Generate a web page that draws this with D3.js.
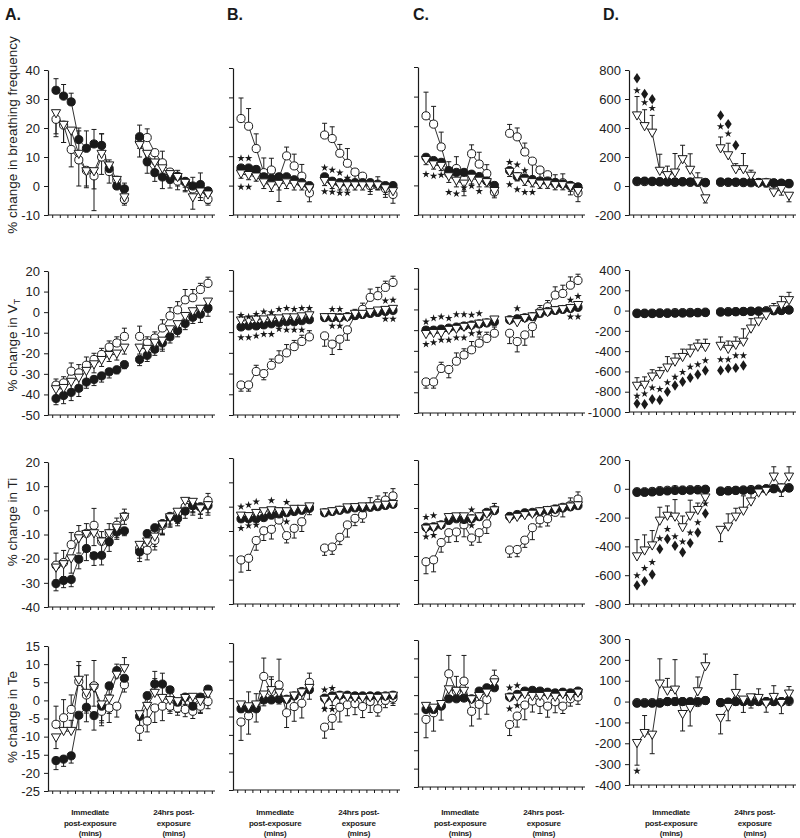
<!DOCTYPE html>
<html>
<head>
<meta charset="utf-8">
<style>
  body { margin: 0; background: #fff; }
  svg text { font-family: "Liberation Sans", Arial, sans-serif; }
</style>
</head>
<body>
<div id="chart"></div>
<script src="https://d3js.org/d3.v7.min.js"></script>
<script>
// ---- labels ----
const panelLetters = ["A.", "B.", "C.", "D."];
const rowTitles = ["% change in breathing frequency", "% change in V", "% change in Ti", "% change in Te"];
const segLabelsLeft = ["Immediate", "post-exposure", "(mins)"];
const segLabelsRight = ["24hrs post-", "exposure", "(mins)"];

// y domains [min, max, step] for columns A-C and for column D
const abcDomains = [[-10, 40, 10], [-50, 20, 10], [-40, 20, 10], [-25, 15, 5]];
const dDomains = [[-200, 800, 200], [-1000, 400, 200], [-800, 200, 200], [-400, 300, 100]];

// slots: 10 immediate time points, a gap, 10 points at 24 hrs
const slots = d3.range(10).concat(d3.range(11, 21));

// ---- row 1: breathing frequency ----
const a1Filled = [33, 31, 29, 16, 13, 14.5, 14, 6, 0, -1, 17, 8.4, 4.6, 3.1, 2.3, 3.4, 1.6, 0, 0.5, -1.7];
const a1FilledErr = [4, 4, 3, 4, 6, 5, 4, 3, 3, 2, 4, -4, -3, -4, -3, 2, -2, 3, 4, -2];
const a1Open = [23, 21, 12.6, 9, 5.4, 3.5, 10, 5, 2, -4.6, 16, 16.7, 11.5, 8, 4.8, 1.7, 1.4, -1, -1, -4.6];
const a1OpenErr = [-6, -6, -6, -9, -6, -12, -6, -4, -3, -2, -3, 3, -4, 4, -3, -3, -3, -3, -3, -2];
const a1Tri = [25, 21, 19, 11, 5, 5, 11, 7, 2, -4, 14, 11, 8, 6, 4, 3, 1, -4, -2, -3];
const a1TriErr = [-7, -6, -7, 8, -5, -6, 7, -3, -2, -2, -4, -4, -3, -3, -3, -3, -3, -4, -3, -3];

const b1Filled = [6, 6, 5.5, 3, 2.5, 3, 3, 2, 1, 0, 3, 1.5, 1, 1, 1, 1, 1, 0.5, 0, 0];
const b1Open = [22.8, 20.2, 12.6, 4.4, 5.3, 2.6, 10.1, 6.7, 3.2, -2.5, 17.2, 16, 11, 7.6, 4.6, 3.2, 0, 0, -1, -3];
const b1OpenErr = [7, 6, 5, 5, 4, -8, 3, 4, 4, -3, 4, 4, 3, 5, -3, -3, -3, 3, -3, -3];
const b1Tri = [4, 3.5, 3, 1, 0, 0.5, 1, 0.5, 0, -1, 1.5, 0.5, 0, 0, 0, 0, 0, 0, -1, -2];
const b1TriErr = [-1.5, -1.5, -1.5, -2, -2, -2, -2, -2, -1.5, -2, -1.5, -1.5, -1.5, -1.5, -1.5, -1.5, -2, -1.5, -2, -2];
const b1Stars = [[0, 9.3], [1, 9.3], [0, -0.5], [1, -0.5], [11, 6.1], [12, 5.3], [13, 4.4], [14, 2.6], [11, -2], [12, -2.2], [13, -2.5], [14, -2.5]];

const c1Filled = [9.5, 8.4, 7.8, 5, 4.4, 4.4, 3.8, 3, 1.5, 0, 5, 3, 2.5, 2, 1.5, 1.5, 1, 0.5, 0, -0.5];
const c1Open = [23.5, 20.7, 13, 4, 5.7, 2, 10.7, 7.2, 4, -2.2, 17.6, 16.4, 11.3, 8.2, 5.2, 3.6, 0.6, 0.9, -0.2, -2.5];
const c1OpenErr = [8, 6, 5, 4, 4, -4, 3, 4, 3, -2, 3, 3, 3, -7, -3, -3, 3, 3, -3, -3];
const c1Tri = [8.5, 7, 6.5, 3, 1.5, 0.5, 2.5, 1.5, 1, -2, 4.5, 3, 1.5, 1, 0.5, 0.5, 0, 0, -0.5, -2];
const c1TriErr = [-1.5, -1.5, -1.5, -2, -2, -4, -2, -2, -1.5, -1.5, -1.5, -1.5, -1.5, -1.5, -1.5, -1.5, -1.5, -1.5, -1.5, -1.5];
const c1Stars = [[0, 3.8], [1, 3.2], [2, 3.5], [3, -2.3], [4, -2.8], [5, -0.8], [6, -0.2], [7, -2],
                 [11, 7.8], [12, 7], [13, 5], [11, 0.3], [12, -1.4], [13, -2.3], [14, -2.3]];

const d1Filled = [34, 34, 33, 30, 30, 28, 30, 28, 28, 25, 28, 27, 27, 26, 26, 25, 25, 22, 20, 18];
const d1Open = [30, 30, 30, 28, 28, 25, 28, 25, 25, 22, 25, 25, 25, 23, 22, 22, 22, 20, 18, 15];
const d1Tri = [485, 411, 366, 103, 73, 91, 183, 110, 30, -87, 258, 210, 114, 114, 69, 18, 23, -46, -23, -69];
const d1TriErr = [132, 115, 121, 116, 64, 133, 98, 112, 61, -30, 80, 85, 40, 110, 40, 30, -30, 40, -40, -40];
const d1Stars = [[0, 658], [1, 576], [2, 537], [11, 411], [12, 361]];
const d1Diamonds = [[0, 743], [1, 635], [2, 599], [11, 487], [12, 427], [13, 281]];

// ---- row 2: tidal volume ----
const a2Filled = [-42, -40.5, -39, -37, -34, -32.7, -31, -29, -28, -25.5, -23, -21, -18, -15, -12, -9, -5.5, -2.5, -1, 2];
const a2FilledErr = [-3, -4, -4, -4, -3, -3, -3, -3, -2, -2, -3, -3, -3, -3, -3, -3, -3, -3, -4, -4];
const a2Open = [-35.5, -34.4, -28.7, -29.5, -25.8, -23, -20.6, -17, -15, -11.8, -11.8, -15, -12.6, -7.7, -1.8, 1.1, 6, 7, 11, 14];
const a2OpenErr = [3, 3, 4, 4, 4, 3, 3, 3, 3, 4, 5, 3, 3, 4, 4, 4, 5, 4, 3, 3];
const a2Tri = [-37.6, -37, -34, -32, -28.7, -25.5, -23.4, -21, -20.3, -17.4, -17.4, -18, -15, -14, -8.5, -6, -2, 0.3, 1.5, 5];
const a2TriErr = [-3, -3, -4, -4, -4, -4, -3, -3, -3, -3, -3, -3, -3, -5, -4, -4, -4, -4, -4, -5];

const b2Filled = [-7.5, -7, -7, -6.5, -6, -5.5, -5, -5, -4.5, -4, -3, -3, -3, -2.5, -2, -1.5, -1, -0.5, 0, 0.5];
const b2Open = [-35.5, -35.5, -29, -30, -26, -23, -20, -17, -14.5, -12.3, -11.8, -15.8, -13.4, -8.9, -2, 1, 6.8, 7.6, 11.6, 14];
const b2OpenErr = [-3, -3, 3, -3, 3, 4, 4, 3, 3, 3, -5, -5, -5, -5, 3, 3, 4, 4, 3, 3];
const b2Tri = [-4.5, -4.5, -4, -4, -3.5, -3.5, -3, -3, -2.5, -2, -2.9, -2.9, -3.2, -2.9, -1.3, -1.3, -0.5, 0.3, 0.6, 1.1];
const b2Stars = [[0, -1.8], [1, -2.6], [2, -1.3], [3, -0.2], [4, -0.5], [5, 1.1], [6, 1.5], [7, 1.1], [8, 1.5], [9, 1.5],
                 [0, -12.6], [1, -12.6], [2, -11.8], [3, -11], [4, -11], [5, -8.5], [6, -8.9], [7, -8.9], [8, -8.9],
                 [12, 1.1], [13, 1.1], [12, -7], [13, -7], [19, 5.2], [20, 5.5], [19, -3.7], [20, -3.7]];

const c2Filled = [-10, -10, -9.5, -9, -8.5, -8, -7.5, -7, -6.5, -6, -5, -4.5, -4, -3.5, -2, -1, -0.5, 0, 0.5, 1];
const c2Open = [-35, -35, -28.5, -29, -25, -22, -19.5, -16.3, -14, -11.5, -11.5, -15.5, -12.3, -8.3, -1.1, 1.3, 6.9, 7.7, 11.7, 14];
const c2OpenErr = [-3, -3, 3, -4, 4, 3, 4, 3, 3, 3, -5, -5, -5, -5, 3, 3, 4, 4, 4, 3];
const c2Tri = [-12, -11.5, -11.5, -10, -9.5, -8.5, -8, -7, -6.5, -5, -5.4, -6.3, -4.3, -3.5, -2, -1.5, -0.5, 0, 0.5, 2];
const c2Stars = [[0, -6], [1, -4.3], [2, -3.5], [3, -4.3], [4, -2.4], [5, -2.4], [6, -2.7], [7, -2],
                 [0, -16.8], [1, -16], [2, -14.8], [3, -14.8], [4, -13.7], [5, -13.7], [6, -11.6], [7, -11.3],
                 [12, 0.5], [19, 4.5], [20, 6.4], [19, -3.5], [20, -3.5]];

const d2Filled = [-30, -30, -30, -28, -28, -26, -25, -24, -22, -20, -15, -14, -12, -10, -8, -6, -4, -2, 0, 5];
const d2Open = [-25, -25, -25, -22, -22, -20, -20, -18, -18, -15, -12, -10, -10, -8, -6, -5, -2, 0, 2, 8];
const d2Tri = [-744, -734, -653, -630, -564, -506, -460, -418, -359, -362, -350, -380, -340, -310, -180, -110, -50, 10, 50, 100];
const d2TriErr = [82, 80, 70, 70, 110, 80, 80, 80, 70, 80, 90, 80, 80, 130, 100, 90, 80, 60, 90, 80];
const d2Stars = [[0, -842], [1, -819], [2, -760], [3, -775], [4, -710], [5, -656], [6, -607], [7, -555], [8, -532], [9, -493],
                 [11, -483], [12, -483], [13, -444], [14, -444]];
const d2Diamonds = [[0, -917], [1, -924], [2, -875], [3, -881], [4, -800], [5, -738], [6, -702], [7, -663], [8, -630], [9, -591],
                    [11, -590], [12, -570], [13, -565], [14, -541]];

// ---- row 3: inspiratory time ----
const a3Filled = [-30.3, -29, -28.6, -20.2, -15.8, -18.8, -18.6, -13, -9, -8.5, -17.2, -9.6, -7.2, -5.5, -2.7, -3.4, -0.3, 2, 1.4, 2];
const a3FilledErr = [-3, -3, -3, -4, -5, -4, -4, -4, -3, -2, -4, -4, -3, -4, -3, -3, -3, -4, -3, -3];
const a3Open = [-22.7, -21.6, -14.2, -10.3, -9.5, -6.2, -12.8, -9.5, -6.2, -2.5, -15.8, -16.5, -12.4, -6.2, -2.5, -1.4, 1.4, 2, 1.4, 4];
const a3OpenErr = [5, 5, 5, 4, 4, 7, 4, 4, 3, 3, -4, -4, -4, -4, -4, -4, -3, -3, -3, 3];
const a3Tri = [-23.8, -22.4, -20, -11.7, -9.9, -9.6, -13, -9.6, -7.3, -2.8, -14.4, -13, -11, -6, -3, -0.7, 3.8, 3.4, 0.7, 2];
const a3TriErr = [-5, -5, -6, -6, -5, -5, -5, -5, -4, -3, -4, -4, -4, -4, -4, -4, -4, -4, -4, -4];

const b3Filled = [-5, -5, -5, -4.5, -3.5, -3, -2.5, -2, -1.5, -0.7, -2.5, -2, -1.5, -1, -0.5, -0.5, 0, 0, 0.5, 1];
const b3Open = [-21.9, -21.2, -13.9, -9.9, -9.3, -5.5, -11.9, -8.9, -6.2, -0.3, -17, -16.6, -12.6, -7.5, -4.8, -3.4, -0.3, 1.4, 2.7, 4.4];
const b3OpenErr = [-5, -5, -4, -4, -4, 5, -3, -4, -4, -3, -3, -3, -3, -5, -3, -3, 4, 3, 3, 3];
const b3Tri = [-3.8, -4, -2.7, -2, -1.6, -2, -2, -1, -1, 0, -2.5, -2, -1.4, -0.4, -0.3, 0, 0, 0.4, 0.7, 1];
const b3Stars = [[0, 0], [1, 0.7], [2, 2], [4, 2.5], [6, 1.8], [0, -8.9], [1, -7.8], [2, -7.5], [6, -6.2]];

const c3Filled = [-8, -7.8, -7, -5.2, -4.5, -4.8, -4.5, -3.6, -1.8, -0.8, -3.5, -2.7, -2, -1.8, -1.5, -1, -0.5, 0, 0.5, 1];
const c3Open = [-22.4, -21.6, -14.4, -10.3, -10, -7, -12.5, -10.3, -6.6, -1.1, -17.5, -17.3, -13.4, -8.2, -4.9, -4.5, -1.8, 0.3, 1.2, 3.7];
const c3OpenErr = [-5, -5, -4, -4, -4, -5, -3, -4, -4, 3, -3, -3, -3, -5, -3, -3, 3, -4, 3, 3];
const c3Tri = [-8.7, -8.2, -7.3, -3.9, -3.6, -3.6, -4.5, -3.6, -2.5, -1.1, -4.5, -3.8, -3.1, -2.5, -1.5, -1, -0.7, 0, 0.5, 1];
const c3Stars = [[0, -3.8], [1, -3.1], [6, -0.7], [0, -12], [1, -11.4], [6, -7.3]];

const d3Filled = [-25, -25, -22, -18, -15, -12, -12, -10, -8, -5, -18, -15, -12, -10, -8, -5, 0, 0, 5, 5];
const d3Open = [-20, -20, -18, -12, -10, -5, -8, -6, -5, -3, -15, -12, -10, -8, -5, -2, 0, 2, 5, 8];
const d3Tri = [-471, -430, -395, -223, -189, -195, -269, -189, -149, -62, -287, -264, -195, -154, -90, -28, -16, 83, 7, 83];
const d3TriErr = [118, 110, 105, 95, 70, 120, 80, 110, 50, 40, -80, 90, 60, 105, 60, 30, 30, 70, -60, 70];
const d3Stars = [[0, -602], [1, -552], [2, -510], [3, -345], [4, -280], [5, -331], [6, -368], [7, -305], [8, -234], [9, -103]];
const d3Diamonds = [[0, -671], [1, -641], [2, -595], [3, -418], [4, -349], [5, -395], [6, -441], [7, -377], [8, -303], [9, -172]];

// ---- row 4: expiratory time ----
const a4Filled = [-16.6, -16.2, -15.3, -4.1, -1.9, -4.2, -1.6, 4, 8.2, 6.1, -4.4, 1.3, 4.5, 4.5, 2.9, -0.5, 0.9, -1.6, 0.9, 3.1];
const a4FilledErr = [-2.5, -2, -2, -4, -4, -4, -4, -2.5, -2, -2, -3, -3, 3.5, 3, -3, -2, -2, -2, -2, -2];
const a4Open = [-6.6, -4.8, -2.5, 5.2, 1.5, 4, -3, -2.1, -1.6, 4.3, -8, -5.7, -2.1, -1.6, -1.6, -2.1, -2.5, -3, -1.6, -0.3];
const a4OpenErr = [5, 5, 4, 5.5, -5, 7, -4, -4, -3, -2, -3, -3, -4, -4, -2, -2, -2, -2, -2, -2];
const a4Tri = [-10.3, -8.5, -8.5, 5.6, 2, 3.4, -1.2, 0.4, 7, 8.8, -3.9, -1.6, 2, 0.6, 0, -0.3, 0.6, 0.9, -0.3, 1.8];
const a4TriErr = [-3, 4, 3, 4, 5, -5, -5, -4, 3, 3, -3, -3, 4, 4, -3, -3, -3, -3, -3, -3];

const b4Filled = [-2.9, -2.9, -2.9, -0.5, -0.5, -0.3, -0.3, 0.6, 1.8, 2.3, 0, 0.6, 0.8, 0.8, 0.6, 0.6, 0.6, 0.6, 0.6, 0.8];
const b4Open = [-6.5, -4.8, -2.5, 5.9, 1.8, 3.6, -4, -2.3, -1.4, 4.3, -7.9, -5.5, -2.5, -1.8, -1.5, -2.3, -0.9, -2.9, -0.6, 0];
const b4OpenErr = [-5, -5, -4, 5, 4, 7, -4, -4, -4, 2.5, -3, -3, -4, -3, -3, -3, -3, -2, -2, -2];
const b4Tri = [-1.8, -2.3, -1.8, 0.9, 2.1, 1.4, -0.5, 0.6, 1.5, 2.7, -0.5, 0, 0.6, 0.3, 0, 0, 0.2, 0, 0.4, 0.6];
const b4TriErr = [-2, 4, 3, -3, 3, -3, -3, -3, -3, -3, -2, -2, -2, -2, -2, -2, -2, -2, -2, -2];
const b4Stars = [[11, 2.3], [12, 2.7], [11, -3], [12, -3]];

const c4Filled = [-3.9, -3.9, -3, -1, -1, -0.8, -1, 1.1, 2, 2, -0.5, 0.2, 1.1, 1.3, 1.1, 0.8, 0.6, 0.8, 0.6, 1.1];
const c4Open = [-6.6, -4.8, -2.8, 5.8, 1.1, 3.8, -4.4, -2.5, -1.2, 4.3, -8, -5.7, -2.7, -1.6, -2, -3, -1.8, -3, -1, -0.5];
const c4OpenErr = [-5, -5, -4, 5, 4, 7, -4, -4, -4, 2.5, -3, -3, -4, -3, -3, -3, -3, -2, -2, -2];
const c4Tri = [-3, -3.5, -2.5, 1.5, 1.1, 1.1, -1.2, -0.3, 0.6, 3.4, -0.7, -0.5, 0.2, -0.3, -0.3, 0, -0.5, 0.2, -0.3, 0.6];
const c4Stars = [[11, 2], [12, 2.6], [11, -3.7], [12, -2.8]];

const d4Filled = [-8, -8, -8, -8, 0, 0, 0, 0, 0, 5, -5, -2, 0, 0, 0, 0, 0, 0, 0, 5];
const d4Open = [-5, -5, -5, -5, 0, 0, 0, -5, -5, 5, -5, -5, 0, 0, 0, 0, 0, 0, 0, 0];
const d4Tri = [-200, -152, -160, 85, 51, 56, -61, -32, 48, 168, -80, -27, 40, 8, 19, 16, -11, 21, -8, 37];
const d4TriErr = [-105, 85, -90, 120, 60, 145, -80, -85, 70, 60, -75, -65, 90, -60, -50, 45, -40, 55, -50, 35];
const d4Stars = [[0, -333]];

// ---- layout ----
const width = 800, height = 838;
const colX = [48, 233, 418, 629];
const panelW = 167;
const panelTop = [[70, 68, 67, 70], [271, 270, 268, 270], [462, 458, 460, 460], [646, 643, 640, 639]];
const panelBot = [[215, 215, 215, 215], [415, 415, 413, 412], [607, 604, 604, 604], [791, 790, 787, 785]];
const letterX = [5, 227, 413, 603];
const titleY = [135, 345, 522, 717];

const panels = [
  {row: 0, col: 0, filled: a1Filled, filledErr: a1FilledErr, open: a1Open, openErr: a1OpenErr, tri: a1Tri, triErr: a1TriErr},
  {row: 0, col: 1, filled: b1Filled, open: b1Open, openErr: b1OpenErr, tri: b1Tri, triErr: b1TriErr, stars: b1Stars},
  {row: 0, col: 2, filled: c1Filled, open: c1Open, openErr: c1OpenErr, tri: c1Tri, triErr: c1TriErr, stars: c1Stars},
  {row: 0, col: 3, filled: d1Filled, open: d1Open, tri: d1Tri, triErr: d1TriErr, stars: d1Stars, diamonds: d1Diamonds},
  {row: 1, col: 0, filled: a2Filled, filledErr: a2FilledErr, open: a2Open, openErr: a2OpenErr, tri: a2Tri, triErr: a2TriErr},
  {row: 1, col: 1, filled: b2Filled, open: b2Open, openErr: b2OpenErr, tri: b2Tri, stars: b2Stars},
  {row: 1, col: 2, filled: c2Filled, open: c2Open, openErr: c2OpenErr, tri: c2Tri, stars: c2Stars},
  {row: 1, col: 3, filled: d2Filled, open: d2Open, tri: d2Tri, triErr: d2TriErr, stars: d2Stars, diamonds: d2Diamonds},
  {row: 2, col: 0, filled: a3Filled, filledErr: a3FilledErr, open: a3Open, openErr: a3OpenErr, tri: a3Tri, triErr: a3TriErr},
  {row: 2, col: 1, filled: b3Filled, open: b3Open, openErr: b3OpenErr, tri: b3Tri, stars: b3Stars},
  {row: 2, col: 2, filled: c3Filled, open: c3Open, openErr: c3OpenErr, tri: c3Tri, stars: c3Stars},
  {row: 2, col: 3, filled: d3Filled, open: d3Open, tri: d3Tri, triErr: d3TriErr, stars: d3Stars, diamonds: d3Diamonds},
  {row: 3, col: 0, filled: a4Filled, filledErr: a4FilledErr, open: a4Open, openErr: a4OpenErr, tri: a4Tri, triErr: a4TriErr},
  {row: 3, col: 1, filled: b4Filled, open: b4Open, openErr: b4OpenErr, tri: b4Tri, triErr: b4TriErr, stars: b4Stars},
  {row: 3, col: 2, filled: c4Filled, open: c4Open, openErr: c4OpenErr, tri: c4Tri, stars: c4Stars},
  {row: 3, col: 3, filled: d4Filled, open: d4Open, tri: d4Tri, triErr: d4TriErr, stars: d4Stars}
];

const ink = "#1a1a1a";
const triPath = "M-4.6,-3.8L4.6,-3.8L0,4.4Z";
const diamondPath = "M0,-5.2L3.5,0L0,5.2L-3.5,0Z";
const star = d3.symbol(d3.symbolStar, 18);

const svg = d3.select("#chart").append("svg")
  .attr("width", width).attr("height", height)
  .attr("viewBox", [0, 0, width, height]);

const x = d3.scaleLinear().domain([0, 20]).range([8, 160]);

panels.forEach(p => {
  const top = panelTop[p.row][p.col], bot = panelBot[p.row][p.col];
  const dom = p.col === 3 ? dDomains[p.row] : abcDomains[p.row];
  const y = d3.scaleLinear().domain([dom[0], dom[1]]).range([bot - top, 0]);
  const g = svg.append("g").attr("transform", `translate(${colX[p.col]},${top})`);
  const showLabels = p.col === 0 || p.col === 3;

  // y axis
  const ya = g.append("g").call(d3.axisLeft(y)
    .tickValues(d3.range(dom[0], dom[1] + dom[2] / 2, dom[2]))
    .tickSize(4).tickSizeOuter(0).tickPadding(4)
    .tickFormat(showLabels ? d => String(d) : ""));
  ya.select(".domain").attr("stroke", ink).attr("stroke-width", 1.2);
  ya.selectAll(".tick line").attr("stroke", ink);
  ya.selectAll(".tick text").attr("font-size", 13).attr("fill", "#222")
    .attr("font-family", "'Liberation Sans', Arial, sans-serif");

  // x axis: tick at every slot boundary
  const xa = g.append("g").attr("transform", `translate(0,${bot - top})`)
    .call(d3.axisBottom(x).tickValues(d3.range(-0.5, 21, 1)).tickSize(3).tickSizeOuter(0).tickFormat(""));
  xa.select(".domain").remove();
  xa.selectAll(".tick line").attr("stroke", ink);
  xa.append("line").attr("x1", 0).attr("x2", panelW).attr("stroke", ink).attr("stroke-width", 1.2);

  const series = [
    {vals: p.open, err: p.openErr, kind: "open"},
    {vals: p.filled, err: p.filledErr, kind: "filled"},
    {vals: p.tri, err: p.triErr, kind: "tri"}
  ];

  // connecting lines, one per time block
  const line = d3.line().x(i => x(slots[i])).y(i => y(s.vals[i]));
  let s;
  series.forEach(ss => {
    s = ss;
    [0, 10].forEach(start => {
      g.append("path").datum(d3.range(start, start + 10))
        .attr("d", line)
        .attr("fill", "none").attr("stroke", ink).attr("stroke-width", 0.9);
    });
  });

  // error bars (sign gives direction)
  series.forEach(ss => {
    if (!ss.err) return;
    const eb = g.append("g").attr("stroke", ink).attr("stroke-width", 1);
    ss.vals.forEach((v, i) => {
      const xx = x(slots[i]), y1 = y(v), y2 = y(v + ss.err[i]);
      eb.append("line").attr("x1", xx).attr("x2", xx).attr("y1", y1).attr("y2", y2);
      eb.append("line").attr("x1", xx - 2.5).attr("x2", xx + 2.5).attr("y1", y2).attr("y2", y2);
    });
  });

  // markers
  series.forEach(ss => {
    const m = g.append("g").selectAll("path").data(ss.vals).join("path")
      .attr("transform", (v, i) => `translate(${x(slots[i])},${y(v)})`)
      .attr("stroke", ink).attr("stroke-width", 1);
    if (ss.kind === "tri") {
      m.attr("d", triPath).attr("fill", "#fff");
    } else {
      m.attr("d", d3.symbol(d3.symbolCircle, 52)).attr("fill", ss.kind === "filled" ? ink : "#fff");
    }
  });

  // significance symbols
  g.append("g").selectAll("path").data(p.stars || []).join("path")
    .attr("transform", d => `translate(${x(d[0])},${y(d[1])})`)
    .attr("d", star).attr("fill", ink);
  g.append("g").selectAll("path").data(p.diamonds || []).join("path")
    .attr("transform", d => `translate(${x(d[0])},${y(d[1])})`)
    .attr("d", diamondPath).attr("fill", ink);
});

// panel letters
svg.selectAll(".letter").data(panelLetters).join("text")
  .attr("x", (d, i) => letterX[i]).attr("y", 20)
  .attr("font-size", 16).attr("font-weight", "bold").attr("fill", ink)
  .text(d => d);

// row titles
rowTitles.forEach((t, r) => {
  const tx = svg.append("text")
    .attr("transform", `translate(17,${titleY[r]}) rotate(-90)`)
    .attr("text-anchor", "middle").attr("font-size", 13.5).attr("fill", "#222");
  tx.append("tspan").text(t);
  if (r === 1) tx.append("tspan").attr("font-size", 9.5).attr("dy", 3).text("T");
});

// time block captions under each column
colX.forEach(cx => {
  [[4.5, segLabelsLeft], [15.5, segLabelsRight]].forEach(([c, lines]) => {
    lines.forEach((l, k) => {
      svg.append("text")
        .attr("x", cx + x(c)).attr("y", 815 + k * 10.5)
        .attr("text-anchor", "middle").attr("font-size", 8).attr("font-weight", "bold")
        .attr("letter-spacing", -0.2).attr("fill", ink)
        .text(l);
    });
  });
});
</script>
</body>
</html>
